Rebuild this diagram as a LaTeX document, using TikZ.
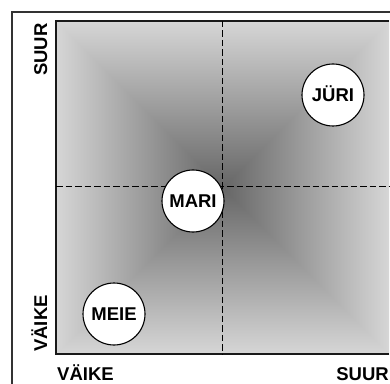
\documentclass[tikz,border=0pt]{standalone}
\usepackage{fontspec}
\setmainfont{Liberation Sans}

% Square ("rectangular path") gradient: dark in the middle, light towards the edges
\pgfdeclarefunctionalshading{squaregrad}{\pgfpoint{-50bp}{-50bp}}{\pgfpoint{50bp}{50bp}}{}{
  abs exch abs 2 copy lt {exch} if pop
  25 div 0.44 mul 0.40 add
  dup 1 gt {pop 1} if
  dup dup
}

\tikzset{
  outerframe/.style={draw=black!80, line width=1.2pt},
  plotframe/.style={draw=black!90, line width=1.4pt},
  quadline/.style={draw=black, line width=1pt, dash pattern=on 6.5pt off 3pt},
  bubble/.style={circle, draw=black, line width=1.1pt, fill=white,
    minimum size=62pt, inner sep=0pt,
    font=\bfseries\fontsize{18.5}{18.5}\selectfont, text height=13.2pt, text depth=0pt},
  axislabel/.style={inner sep=0pt, font=\bfseries\fontsize{18.5}{18.5}\selectfont}
}

\begin{document}
\begin{tikzpicture}[x=1pt, y=1pt]
  \useasboundingbox (0,0) rectangle (390,383);
  \clip (0,0) rectangle (390,383);
  \fill[white] (0,0) rectangle (390,383);

  % corners of the plotting area and the centre cross
  \coordinate (bl) at (56,29);
  \coordinate (tl) at (56,362);
  \coordinate (br) at (389,29);
  \coordinate (tr) at (389,362);
  \coordinate (ctop) at (222,362);
  \coordinate (cbot) at (222,29);
  \coordinate (cleft) at (56,196);
  \coordinate (cright) at (392,196);

  % outer frame (runs off the page on the right and at the bottom)
  \coordinate (ofb) at (12,-5);
  \coordinate (oft) at (12,371);
  \coordinate (ofr) at (400,371);
  \draw[outerframe] (ofb) -- (oft) -- (ofr);

  % shaded plotting area
  \shade[shading=squaregrad] (bl) rectangle (tr);
  \draw[plotframe] (br) -- (bl) -- (tl) -- (tr);

  % quadrant lines
  \draw[quadline] (ctop) -- (cbot);
  \draw[quadline] (cleft) -- (cright);

  % positions
  \node[bubble] (mari) at (193,182) {MARI};
  \node[bubble] (juri) at (333,288) {JÜRI};
  \node[bubble] (meie) at (114,69) {MEIE};

  % axis labels
  \node[axislabel, anchor=base west] (xsmall) at (57,3) {VÄIKE};
  \node[axislabel, anchor=base east] (xlarge) at (389,3) {SUUR};
  \node[axislabel, rotate=90, anchor=base west] (ylarge) at (47,307) {SUUR};
  \node[axislabel, rotate=90, anchor=base west] (ysmall) at (47,31) {VÄIKE};
\end{tikzpicture}
\end{document}
